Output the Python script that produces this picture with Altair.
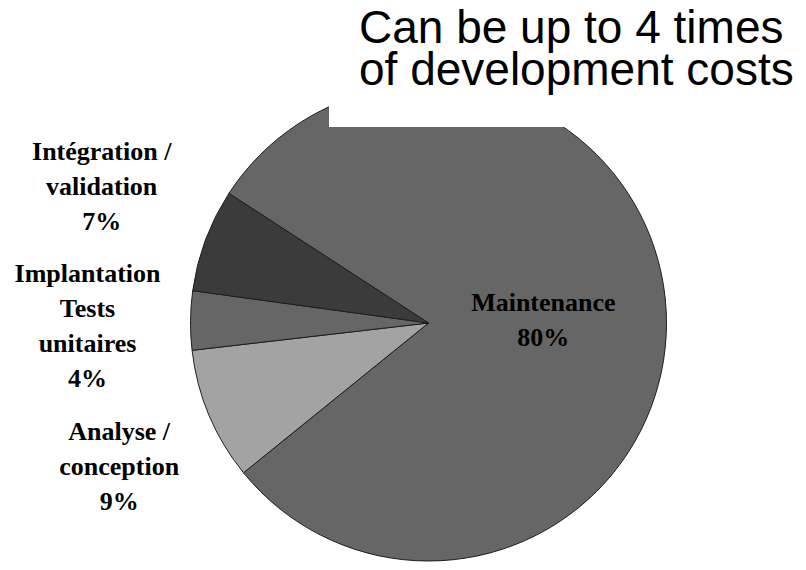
import math

import altair as alt
import pandas as pd

# Share of total software cost per life-cycle phase (clockwise from the top)
categories = [
    "Maintenance",
    "Analyse / conception",
    "Implantation Tests unitaires",
    "Intégration / validation",
]
label_names = [
    "Maintenance",
    "Analyse /\nconception",
    "Implantation\nTests\nunitaires",
    "Intégration /\nvalidation",
]
shares = [80, 9, 4, 7]
fills = ["#666666", "#a3a3a3", "#666666", "#3b3b3b"]
headline = ["Can be up to 4 times", "of development costs"]

df = pd.DataFrame(
    {
        "category": categories,
        "name": label_names,
        "share": shares,
        "slot": list(range(len(categories))),
    }
)
df["label"] = df["name"] + "\n" + df["share"].astype(str) + "%"

# pie geometry
CX, CY, R = 428.5, 323, 238
start = math.radians(-57)
LINE_H = 35

theta = alt.Theta(
    "share:Q", stack=True, scale=alt.Scale(range=[start, start + 2 * math.pi])
)
order = alt.Order("slot:Q", sort="ascending")

base = alt.Chart(df).encode(
    theta=theta, order=order, x=alt.value(CX), y=alt.value(CY)
)

pie = base.mark_arc(radius=R, stroke="#1e1e1e", strokeWidth=1).encode(
    color=alt.Color(
        "category:N",
        scale=alt.Scale(domain=categories, range=fills),
        legend=None,
    )
)

# label anchor per slice: radius from the centre plus a small nudge
placement = {
    "Maintenance": (115, 0, 4),
    "Analyse / conception": (341, 5, 12),
    "Implantation Tests unitaires": (341, 0, 7),
    "Intégration / validation": (354, 5, -13),
}

label_layers = []
for cat, name in zip(categories, label_names):
    r, dx, dy = placement[cat]
    n_lines = name.count("\n") + 2
    # multi-line text is anchored on its first line: centre the whole block
    dy -= (n_lines - 1) * LINE_H / 2
    label_layers.append(
        base.mark_text(
            radius=r,
            dx=dx,
            dy=dy,
            align="center",
            baseline="middle",
            font="Liberation Serif",
            fontWeight="bold",
            fontSize=26,
            lineHeight=LINE_H,
            lineBreak="\n",
            color="black",
        ).encode(
            text=alt.condition(
                alt.datum.category == cat, alt.Text("label:N"), alt.value("")
            )
        )
    )

one_row = pd.DataFrame({"k": [0]})

callout_box = (
    alt.Chart(one_row)
    .mark_rect(color="white")
    .encode(
        x=alt.value(329), x2=alt.value(806), y=alt.value(0), y2=alt.value(127)
    )
)

callout_text = (
    alt.Chart(one_row)
    .mark_text(
        align="left",
        baseline="alphabetic",
        font="Liberation Sans",
        fontSize=46,
        lineHeight=42,
        color="black",
    )
    .encode(x=alt.value(359), y=alt.value(43), text=alt.value(headline))
)

chart = (
    alt.layer(pie, *label_layers, callout_box, callout_text)
    .properties(
        width=806,
        height=570,
        autosize=alt.AutoSizeParams(type="none"),
        padding=0,
        background="white",
    )
    .configure_view(stroke=None)
)

chart.save("out.html", embed_options={"renderer": "svg", "actions": False})
